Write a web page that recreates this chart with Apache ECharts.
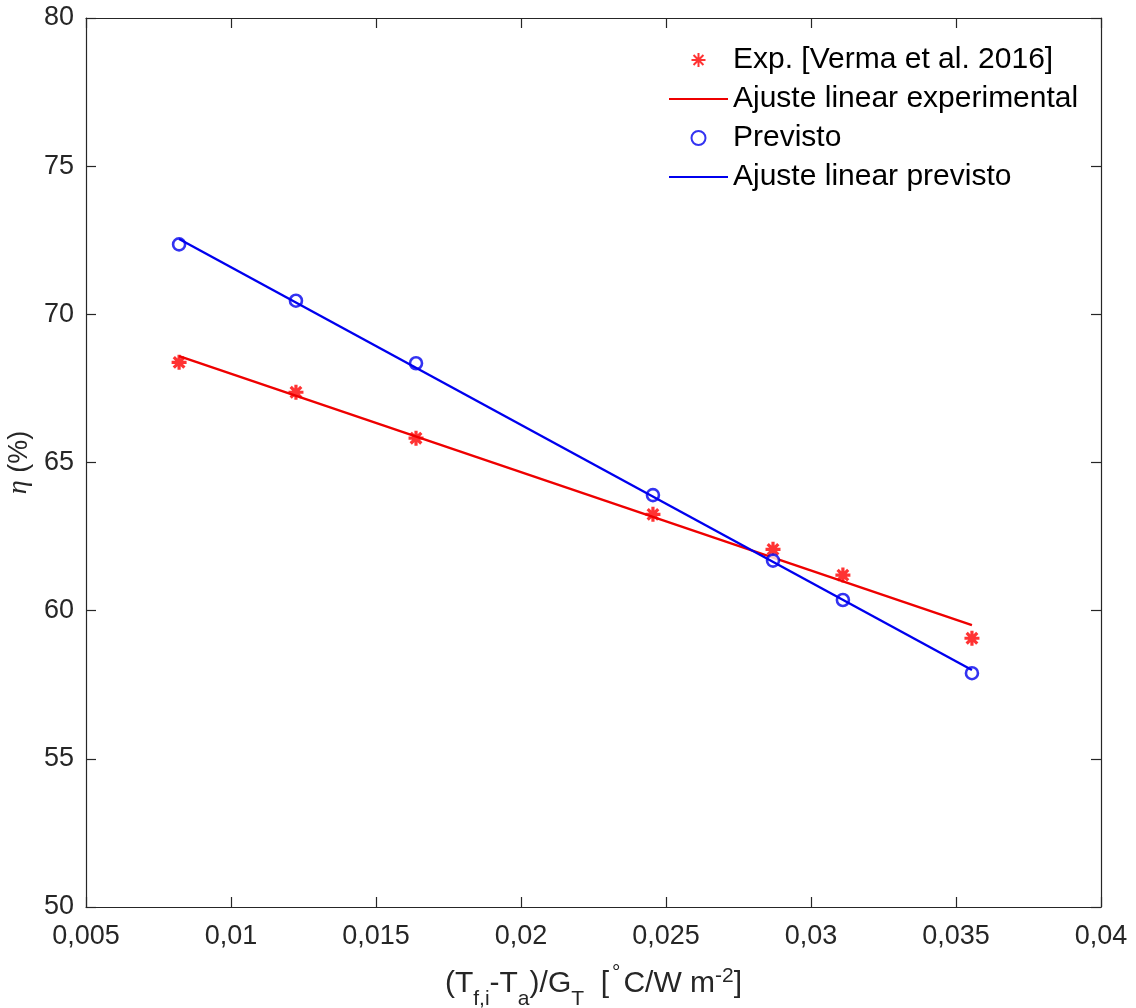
<!DOCTYPE html>
<html>
<head>
<meta charset="utf-8">
<script src="https://cdn.jsdelivr.net/npm/echarts@6/dist/echarts.min.js"></script>
<style>html,body{margin:0;padding:0;background:#fff;}#c{width:1136px;height:1008px;}</style>
</head>
<body>
<div id="c"></div>
<script>
// ---- data ----
const xValues = [0.00821, 0.01224, 0.01638, 0.02455, 0.02869, 0.0311, 0.03555];
const expValues = [68.38, 67.37, 65.82, 63.25, 62.07, 61.20, 59.07];
const predValues = [72.36, 70.46, 68.35, 63.90, 61.69, 60.36, 57.89];
const expFitX = [0.00821, 0.03555];
const expFitY = [68.59, 59.51];
const predFitX = [0.00821, 0.03555];
const predFitY = [72.54, 58.00];
const xTickLabels = ['0,005', '0,01', '0,015', '0,02', '0,025', '0,03', '0,035', '0,04'];
const yTickLabels = ['50', '55', '60', '65', '70', '75', '80'];
const seriesNames = ['Exp. [Verma et al. 2016]', 'Ajuste linear experimental', 'Previsto', 'Ajuste linear previsto'];

const FONT = '"Liberation Sans", Arial, Helvetica, sans-serif';
const AXC = '#262626';
const STAR = 'path://M0,-1L0,1M-1,0L1,0M-0.707,-0.707L0.707,0.707M-0.707,0.707L0.707,-0.707';
const LINE_ICON = 'path://M0,0L59,0L59,2.2L0,2.2Z';

const pairs = (xs, ys) => xs.map((x, i) => [x, ys[i]]);

const chart = echarts.init(document.getElementById('c'), null, {renderer: 'canvas'});

const axisCommon = {
  axisLine: {show: true, onZero: false, lineStyle: {color: AXC, width: 1.2}},
  axisTick: {show: true, inside: true, length: 10, lineStyle: {color: AXC, width: 1.2}},
  splitLine: {show: false},
  minorTick: {show: false}
};

const option = {
  animation: false,
  backgroundColor: '#ffffff',
  grid: {left: 86, right: 35, top: 18, bottom: 101, containLabel: false, outerBoundsMode: 'none'},
  xAxis: [
    Object.assign({
      type: 'value', min: 0.005, max: 0.04, interval: 0.005, position: 'bottom',
      axisLabel: {
        color: AXC, fontFamily: FONT, fontSize: 27, margin: 16,
        formatter: v => xTickLabels[Math.round((v - 0.005) / 0.005)]
      },
      name: '{m|(T}{s|f,i}{m|-T}{s|a}{m|)/G}{s|T}{m|  [}{d|°}{m|C/W m}{p|-2}{m|]}',
      nameLocation: 'middle', nameGap: 58,
      nameTextStyle: {
        color: AXC, fontFamily: FONT,
        rich: {
          m: {fontSize: 30, fontFamily: FONT, color: AXC, verticalAlign: 'top', padding: [4, 0, 0, 0]},
          s: {fontSize: 21, fontFamily: FONT, color: AXC, verticalAlign: 'top', padding: [24, 0, 0, 0]},
          p: {fontSize: 21, fontFamily: FONT, color: AXC, verticalAlign: 'top', padding: [1, 0, 0, 0]},
          d: {fontSize: 21, fontFamily: FONT, color: AXC, verticalAlign: 'top', padding: [-2, 3, 0, 3]}
        }
      }
    }, axisCommon),
    Object.assign({
      type: 'value', min: 0.005, max: 0.04, interval: 0.005, position: 'top',
      axisLabel: {show: false}
    }, axisCommon)
  ],
  yAxis: [
    Object.assign({
      type: 'value', min: 50, max: 80, interval: 5, position: 'left',
      axisLabel: {
        color: AXC, fontFamily: FONT, fontSize: 27, margin: 12,
        formatter: v => yTickLabels[Math.round((v - 50) / 5)]
      },
      name: '{e|η}{m| (%)}',
      nameLocation: 'middle', nameRotate: 90, nameGap: 50,
      nameTextStyle: {
        color: AXC,
        rich: {
          e: {fontSize: 28, fontFamily: '"Liberation Serif", "DejaVu Serif", serif', fontStyle: 'italic', color: AXC},
          m: {fontSize: 27, fontFamily: FONT, color: AXC}
        }
      }
    }, axisCommon),
    Object.assign({
      type: 'value', min: 50, max: 80, interval: 5, position: 'right',
      axisLabel: {show: false}
    }, axisCommon)
  ],
  legend: {
    orient: 'vertical', left: 669, top: 45, padding: 0,
    itemWidth: 59, itemHeight: 14, itemGap: 9,
    textStyle: {fontFamily: FONT, fontSize: 30, color: '#000'},
    data: [
      {name: seriesNames[0]},
      {name: seriesNames[1], icon: LINE_ICON},
      {name: seriesNames[2]},
      {name: seriesNames[3], icon: LINE_ICON}
    ]
  },
  series: [
    {
      name: seriesNames[0], type: 'scatter', xAxisIndex: 0, yAxisIndex: 0,
      data: pairs(xValues, expValues),
      symbol: STAR, symbolSize: 15,
      itemStyle: {color: '#ff0000', borderColor: '#ff0000', borderWidth: 3.2},
      z: 3
    },
    {
      name: seriesNames[1], type: 'line', xAxisIndex: 0, yAxisIndex: 0,
      data: pairs(expFitX, expFitY),
      symbol: 'none', showSymbol: false,
      lineStyle: {color: '#ee0000', width: 2.4}, itemStyle: {color: '#ee0000'},
      z: 4
    },
    {
      name: seriesNames[2], type: 'scatter', xAxisIndex: 0, yAxisIndex: 0,
      data: pairs(xValues, predValues),
      symbol: 'circle', symbolSize: 12,
      itemStyle: {color: '#ffffff', borderColor: '#0000ee', borderWidth: 2.6},
      z: 5
    },
    {
      name: seriesNames[3], type: 'line', xAxisIndex: 0, yAxisIndex: 0,
      data: pairs(predFitX, predFitY),
      symbol: 'none', showSymbol: false,
      lineStyle: {color: '#0000ee', width: 2.4}, itemStyle: {color: '#0000ee'},
      z: 6
    }
  ]
};
chart.setOption(option);
</script>
</body>
</html>
